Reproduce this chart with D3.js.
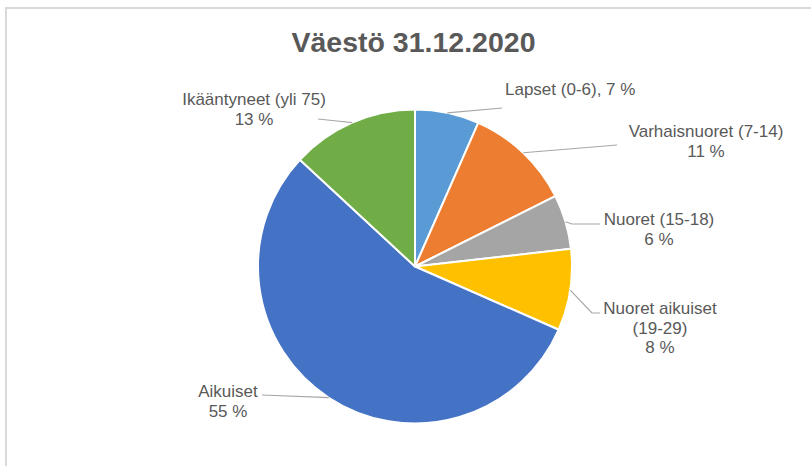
<!DOCTYPE html>
<html>
<head>
<meta charset="utf-8">
<script src="https://cdn.jsdelivr.net/npm/d3@7"></script>
<style>
  body { margin: 0; background: #fff; }
  svg { display: block; font-family: "Liberation Sans", Arial, sans-serif; }
</style>
</head>
<body>
<svg id="chart"></svg>
<script>
// data
const categories = ['Lapset (0-6)', 'Varhaisnuoret (7-14)', 'Nuoret (15-18)', 'Nuoret aikuiset (19-29)', 'Aikuiset', 'Ikääntyneet (yli 75)'];
const shares = [6.6, 11.0, 5.6, 8.4, 55.3, 13.1];
const colors = ['#5B9BD5', '#ED7D31', '#A5A5A5', '#FFC000', '#4472C4', '#70AD47'];
// label text lines, {p} is replaced with the rounded share
const labelLines = [
    ['Lapset (0-6), {p}'],
    ['Varhaisnuoret (7-14)', '{p}'],
    ['Nuoret (15-18)', '{p}'],
    ['Nuoret aikuiset', '(19-29)', '{p}'],
    ['Aikuiset', '{p}'],
    ['Ikääntyneet (yli 75)', '{p}'],
];
const title = 'Väestö 31.12.2020';

// label placement (offsets from pie centre), kept apart from the data
const labelLayout = [
    { x: 90, y: -171.5, anchor: 'start', leader: [[87, -158.5]] },
    { x: 291, y: -129.5, anchor: 'middle', leader: [[202, -121.5]] },
    { x: 244, y: -41.5, anchor: 'middle', leader: [[157, -42.5], [185, -42.5]] },
    { x: 245, y: 47.5, anchor: 'middle', leader: [[177, 46.5], [185, 46.5]] },
    { x: -187, y: 130.5, anchor: 'middle', leader: [[-153, 128.5]] },
    { x: -161, y: -161.5, anchor: 'middle', leader: [[-78, -145.5], [-97, -147.5]] },
];

const width = 811, height = 466;
const cx = 415, cy = 266.5, radius = 157;
const lineHeight = 19.5;

const svg = d3.select('#chart').attr('width', width).attr('height', height);

// chart frame (only top and left edges visible in the crop)
svg.append('rect')
    .attr('x', 6).attr('y', 8)
    .attr('width', width + 20).attr('height', height + 20)
    .attr('fill', '#fff')
    .attr('stroke', '#d9d9d9')
    .attr('stroke-width', 2);

svg.append('text')
    .attr('x', 413.5)
    .attr('y', 52)
    .attr('text-anchor', 'middle')
    .attr('font-size', 28.5)
    .attr('font-weight', 'bold')
    .attr('fill', '#595959')
    .text(title);

const data = categories.map((c, i) => ({ name: c, value: shares[i], i }));

const pie = d3.pie().sort(null).value((d) => d.value);
const arc = d3.arc().innerRadius(0).outerRadius(radius);
const edge = d3.arc().innerRadius(radius).outerRadius(radius);

const g = svg.append('g').attr('transform', `translate(${cx},${cy})`);
const arcs = pie(data);

g.selectAll('path.slice')
    .data(arcs)
    .join('path')
    .attr('class', 'slice')
    .attr('d', arc)
    .attr('fill', (d) => colors[d.data.i])
    .attr('stroke', '#fff')
    .attr('stroke-width', 2)
    .attr('stroke-linejoin', 'round');

const total = d3.sum(shares);
const fmt = (v) => Math.round((v / total) * 100) + ' %';

// leader lines from the outer edge at the slice mid angle
const line = d3.line();
g.selectAll('path.leader')
    .data(arcs)
    .join('path')
    .attr('class', 'leader')
    .attr('d', (d) => line([edge.centroid(d), ...labelLayout[d.data.i].leader]))
    .attr('fill', 'none')
    .attr('stroke', '#a6a6a6')
    .attr('stroke-width', 1.2);

const labels = g.selectAll('text.label')
    .data(arcs)
    .join('text')
    .attr('class', 'label')
    .attr('font-size', 17)
    .attr('fill', '#595959')
    .attr('text-anchor', (d) => labelLayout[d.data.i].anchor);

labels.each(function (d) {
    const lay = labelLayout[d.data.i];
    const lines = labelLines[d.data.i].map((s) => s.replace('{p}', fmt(d.data.value)));
    d3.select(this).selectAll('tspan')
        .data(lines)
        .join('tspan')
        .attr('x', lay.x)
        .attr('y', (s, k) => lay.y + k * lineHeight)
        .text((s) => s);
});
</script>
</body>
</html>
